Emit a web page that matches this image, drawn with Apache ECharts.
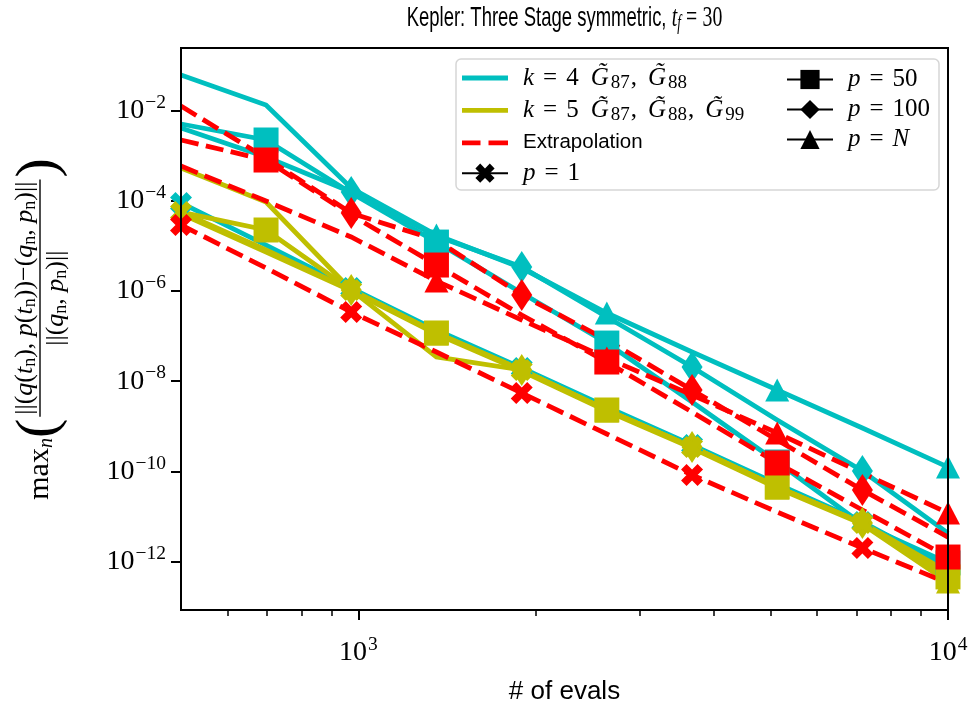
<!DOCTYPE html>
<html>
<head>
<meta charset="utf-8">
<script src="https://cdn.jsdelivr.net/npm/echarts@6.0.0/dist/echarts.min.js"></script>
<style>
html,body{margin:0;padding:0;background:#fff;}
#chart{width:974px;height:713px;}
</style>
</head>
<body>
<div id="chart"></div>
<script>
// ---------------- data ----------------
const evals = [500, 697, 972, 1356, 1892, 2638, 3680, 5132, 7158, 10000];

// k = 4  (cyan)
const k4_p1   = [8.9e-5, 1.04e-5, 1.16e-6, 1.36e-7, 1.96e-8, 2.68e-9, 3.85e-10, 5.27e-11, 7.6e-12, 7.3e-13];
const k4_p50  = [5.0e-3, 2.21e-3, 1.48e-4, 1.21e-5, 9.0e-7, 7.0e-8, 3.46e-9, 1.62e-10, 6.8e-12, 9.4e-13];
const k4_p100 = [4.07e-3, 9.3e-4, 1.56e-4, 1.65e-5, 3.39e-6, 2.64e-7, 2.06e-8, 1.38e-9, 1.02e-10, 4.3e-12];
const k4_pN   = [6.1e-2, 1.32e-2, 1.91e-4, 1.73e-5, 3.22e-6, 3.24e-7, 4.43e-8, 6.38e-9, 9.2e-10, 1.25e-10];

// k = 5  (yellow)
const k5_p1   = [5.6e-5, 8.1e-6, 1.05e-6, 3.44e-8, 1.77e-8, 2.30e-9, 3.48e-10, 4.52e-11, 7.2e-12, 4.4e-13];
const k5_p50  = [5.6e-5, 2.24e-5, 1.05e-6, 1.17e-7, 1.77e-8, 2.30e-9, 3.48e-10, 4.52e-11, 7.2e-12, 4.6e-13];
const k5_p100 = [5.3e-4, 9.3e-5, 1.05e-6, 1.17e-7, 1.77e-8, 2.30e-9, 3.48e-10, 4.52e-11, 7.2e-12, 5.9e-13];
const k5_pN   = [5.1e-5, 7.3e-6, 1.0e-6, 1.11e-7, 1.68e-8, 2.18e-9, 3.31e-10, 4.30e-11, 6.8e-12, 3.55e-13];

// Extrapolation (red, dashed)
const ex_p1   = [2.89e-5, 3.22e-6, 3.41e-7, 4.43e-8, 5.47e-9, 6.76e-10, 8.34e-11, 1.26e-11, 2.01e-12, 3.37e-13];
const ex_p50  = [2.21e-3, 7.96e-4, 4.81e-5, 3.75e-6, 2.93e-7, 2.66e-8, 2.07e-9, 1.54e-10, 1.40e-11, 1.27e-12];
const ex_p100 = [1.25e-2, 8.8e-4, 5.3e-5, 1.34e-5, 8.12e-7, 8.17e-8, 6.38e-9, 4.98e-10, 3.88e-11, 3.52e-12];
const ex_pN   = [5.86e-4, 9.82e-5, 1.57e-5, 1.66e-6, 2.27e-7, 3.26e-8, 4.94e-9, 7.11e-10, 9.23e-11, 1.20e-11];

// axis ticks
const xMajorTicks = [1000, 10000];
const xMinorTicks = [600, 700, 800, 900, 2000, 3000, 4000, 5000, 6000, 7000, 8000, 9000];
const yMajorTicks = [1e-2, 1e-4, 1e-6, 1e-8, 1e-10, 1e-12];
const xRange = [500, 10000];
const yRange = [Math.pow(10, -13.07), Math.pow(10, -0.617)];

// ---------------- styles ----------------
const CYAN = '#00bfbf', YEL = '#bfbf00', RED = '#ff0000', BLACK = '#000000';
const GRID = {left: 181, top: 48, width: 767, height: 562};
const LW = 4.8;
const DASH = [18, 7.5];
const SERIF = "'Liberation Serif', 'DejaVu Serif', serif";
const SANS = "'Liberation Sans', 'DejaVu Sans', sans-serif";
const XPATH = 'path://M1,0L2,1L3,0L4,1L3,2L4,3L3,4L2,3L1,4L0,3L1,2L0,1Z';
const THIN_DIAMOND = 'path://M0,5L3.5,0L7,5L3.5,10Z';

const MARK = {
  p1:   {sym: XPATH, size: 22, start: 0},
  p50:  {sym: 'rect', size: 25, start: 1},
  p100: {sym: 'diamond', size: [21, 32], start: 2},
  pN:   {sym: 'triangle', size: [24, 23], start: 3}
};

function mk(data, color, dashed, p) {
  const m = MARK[p];
  return {
    type: 'line',
    data: evals.map((x, i) => [x, data[i]]),
    xAxisIndex: 0, yAxisIndex: 0,
    lineStyle: {color: color, width: LW, type: dashed ? DASH : 'solid', cap: 'butt', join: 'miter'},
    itemStyle: {color: color, borderWidth: 0},
    symbol: (v, params) => (params.dataIndex >= m.start && (params.dataIndex - m.start) % 2 === 0) ? m.sym : 'none',
    symbolSize: m.size,
    symbolKeepAspect: false,
    showSymbol: true, showAllSymbol: true,
    emphasis: {disabled: true}, silent: true, animation: false, clip: true, z: 2
  };
}

const dataSeries = [
  mk(k4_pN, CYAN, false, 'pN'), mk(k4_p100, CYAN, false, 'p100'), mk(k4_p50, CYAN, false, 'p50'), mk(k4_p1, CYAN, false, 'p1'),
  mk(k5_pN, YEL, false, 'pN'), mk(k5_p100, YEL, false, 'p100'), mk(k5_p50, YEL, false, 'p50'), mk(k5_p1, YEL, false, 'p1'),
  mk(ex_pN, RED, true, 'pN'), mk(ex_p100, RED, true, 'p100'), mk(ex_p50, RED, true, 'p50'), mk(ex_p1, RED, true, 'p1')
];

// legend-only series
function lg(name, color, dashed, symbol) {
  return {name: name, type: 'line', data: [], lineStyle: {color: color, width: LW, type: dashed ? DASH : 'solid'},
          itemStyle: {color: color, borderWidth: 0}, symbol: symbol || 'none', symbolKeepAspect: true,
          emphasis: {disabled: true}, silent: true, animation: false};
}
const legendSeries = [
  lg('k4', CYAN), lg('k5', YEL), lg('ex', RED, true), lg('p1', BLACK, false, XPATH),
  lg('p50', BLACK, false, 'rect'), lg('p100', BLACK, false, THIN_DIAMOND), lg('pN', BLACK, false, 'triangle')
];

const SOLID_ICON = 'path://M0,0h0.01v0.01h-0.01zM0,9.6h46v4.8h-46zM45.99,23.99h0.01v0.01h-0.01z';
const DASH_ICON = 'path://M0,0h0.01v0.01h-0.01zM0,9.6h18.5v4.8h-18.5zM26.5,9.6h19.5v4.8h-19.5zM45.99,23.99h0.01v0.01h-0.01z';

const LEG_TEXT = {
  k4: '{g|}{i|k}{e|=}{r|4}{sp|}{i|G\u0303}{sub|87}{c|,}{i|G\u0303}{sub|88}',
  k5: '{g|}{i|k}{e|=}{r|5}{sp|}{i|G\u0303}{sub|87}{c|,}{i|G\u0303}{sub|88}{c|,}{i|G\u0303}{sub|99}',
  ex: '{g|}{s|Extrapolation}',
  p1: '{g|}{i|p}{e|=}{r|1}',
  p50: '{g|}{i|p}{e|=}{r|50}',
  p100: '{g|}{i|p}{e|=}{r|100}',
  pN: '{g|}{i|p}{e|=}{i|N}'
};
const LEG_RICH = {
  g: {width: 10},
  sp: {width: 12},
  i: {fontFamily: SERIF, fontStyle: 'italic', fontSize: 25, color: '#000'},
  r: {fontFamily: SERIF, fontSize: 25, color: '#000'},
  c: {fontFamily: SERIF, fontSize: 25, color: '#000', padding: [0, 11, 0, 1]},
  e: {fontFamily: SERIF, fontSize: 25, color: '#000', padding: [0, 9, 0, 9]},
  sub: {fontFamily: SERIF, fontSize: 19, color: '#000', padding: [10, 0, 0, 2]},
  s: {fontFamily: SANS, fontSize: 20.5, color: '#000'}
};

// tick labels 10^e
const AX_RICH = {
  b: {fontFamily: SERIF, fontSize: 28, color: '#000'},
  s: {fontFamily: SERIF, fontSize: 19.5, color: '#000', padding: [0, 0, 16, 1]}
};
function powLabel(v) {
  const e = Math.round(Math.log10(v));
  return '{b|10}{s|' + String(e).replace('-', '\u2212') + '}';
}

// ---------------- y-axis name (fraction) ----------------
const mctx = document.createElement('canvas').getContext('2d');
const FR = 26, FSUB = 18, FMAX = 30, FMS = 20, FPAR = 58;
function tw(t, size, italic) { mctx.font = (italic ? 'italic ' : '') + size + "px 'Liberation Serif'"; return mctx.measureText(t).width; }
const NUMTOK = [['r','||('],['i','q'],['r','('],['i','t'],['sub','n'],['r','), '],['i','p'],['r','('],['i','t'],['sub','n'],['r','))\u2212('],['i','q'],['sub','n'],['r',', '],['i','p'],['sub','n'],['r',')||']];
const DENTOK = [['r','||('],['i','q'],['sub','n'],['r',', '],['i','p'],['sub','n'],['r',')||']];
function tokW(toks) { return toks.reduce((s, t) => s + tw(t[1], t[0] === 'sub' ? FSUB : FR, t[0] === 'i'), 0); }
function tokS(toks) { return toks.map(t => '{' + t[0] + '|' + t[1] + '}').join(''); }
const FRAC_RICH = {
  r: {fontFamily: SERIF, fontSize: FR, fill: '#000'},
  i: {fontFamily: SERIF, fontSize: FR, fontStyle: 'italic', fill: '#000'},
  sub: {fontFamily: SERIF, fontSize: FSUB, fill: '#000', padding: [10, 0, 0, 0]},
  m: {fontFamily: SERIF, fontSize: FMAX, fill: '#000'},
  ms: {fontFamily: SERIF, fontSize: FMS, fontStyle: 'italic', fill: '#000', padding: [13, 0, 0, 0]},
  p: {fontFamily: SERIF, fontSize: FPAR, fill: '#000'}
};
const numW = tokW(NUMTOK), denW = tokW(DENTOK);
const fracW = Math.max(numW, denW) + 4;
const leftW = tw('max', FMAX, false) + tw('n', FMS, true) + tw('(', FPAR, false);
const rightW = tw(')', FPAR, false);
const totalW = leftW + 2 + fracW + 2 + rightW;
const x0 = -totalW / 2;
const fc = x0 + leftW + 2 + fracW / 2;
const yNameGroup = {
  type: 'group', x: 40, y: GRID.top + GRID.height / 2, rotation: Math.PI / 2, z: 30,
  children: [
    {type: 'text', x: x0, y: 0, style: {text: '{m|max}{ms|n}{p|(}', rich: FRAC_RICH, align: 'left', verticalAlign: 'middle'}},
    {type: 'text', x: fc, y: -15, style: {text: tokS(NUMTOK), rich: FRAC_RICH, align: 'center', verticalAlign: 'middle'}},
    {type: 'line', shape: {x1: fc - fracW / 2, y1: 0, x2: fc + fracW / 2, y2: 0}, style: {stroke: '#000', lineWidth: 1.4}},
    {type: 'text', x: fc, y: 16, style: {text: tokS(DENTOK), rich: FRAC_RICH, align: 'center', verticalAlign: 'middle'}},
    {type: 'text', x: x0 + leftW + 2 + fracW + 2, y: 0, style: {text: '{p|)}', rich: FRAC_RICH, align: 'left', verticalAlign: 'middle'}}
  ]
};

// title (condensed sans look via horizontal scale)
const titleText = {
  type: 'text', x: GRID.left + GRID.width / 2, y: 18, scaleX: 0.66, z: 30,
  style: {
    text: '{s|Kepler: Three Stage symmetric, }{i|t}{sub|f}{e|=}{r|30}',
    align: 'center', verticalAlign: 'middle',
    rich: {
      s: {fontFamily: SANS, fontSize: 28, fill: '#000'},
      i: {fontFamily: SERIF, fontStyle: 'italic', fontSize: 30, fill: '#000'},
      sub: {fontFamily: SERIF, fontStyle: 'italic', fontSize: 20, fill: '#000', padding: [12, 0, 0, 0]},
      e: {fontFamily: SERIF, fontSize: 30, fill: '#000', padding: [0, 8, 0, 8]},
      r: {fontFamily: SERIF, fontSize: 30, fill: '#000'}
    }
  }
};

// ---------------- chart ----------------
const chart = echarts.init(document.getElementById('chart'), null, {renderer: 'canvas'});
const option = {
  animation: false,
  backgroundColor: '#ffffff',
  grid: {left: GRID.left, top: GRID.top, width: GRID.width, height: GRID.height, containLabel: false, show: false},
  xAxis: [
    {
      type: 'log', logBase: 10, min: xRange[0], max: xRange[1], position: 'bottom',
      axisLine: {show: false}, splitLine: {show: false}, minorTick: {show: false},
      axisTick: {show: true, customValues: xMajorTicks, length: 10, lineStyle: {color: '#000', width: 2}},
      axisLabel: {customValues: xMajorTicks, formatter: powLabel, margin: 25, rich: AX_RICH},
      name: '# of evals', nameLocation: 'middle', nameGap: 69,
      nameTextStyle: {fontFamily: SANS, fontSize: 26, color: '#000'}
    },
    {
      type: 'log', logBase: 10, min: xRange[0], max: xRange[1], position: 'bottom', gridIndex: 0,
      axisLine: {show: false}, splitLine: {show: false}, axisLabel: {show: false},
      axisTick: {show: true, customValues: xMinorTicks, length: 6, lineStyle: {color: '#000', width: 1.5}}
    }
  ],
  yAxis: {
    type: 'log', logBase: 10, min: yRange[0], max: yRange[1],
    axisLine: {show: false}, splitLine: {show: false},
    axisTick: {show: true, customValues: yMajorTicks, length: 10, lineStyle: {color: '#000', width: 2}},
    axisLabel: {customValues: yMajorTicks, formatter: powLabel, margin: 15, rich: AX_RICH}
  },
  legend: [
    {
      data: [
        {name: 'k4', icon: SOLID_ICON, itemStyle: {color: CYAN, borderWidth: 0}},
        {name: 'k5', icon: SOLID_ICON, itemStyle: {color: YEL, borderWidth: 0}},
        {name: 'ex', icon: DASH_ICON, itemStyle: {color: RED, borderWidth: 0}},
        {name: 'p1'}
      ],
      left: 461, top: 65.5, orient: 'vertical', itemWidth: 46, itemHeight: 24, itemGap: 5.4, padding: 0,
      selectedMode: false, formatter: n => LEG_TEXT[n],
      textStyle: {color: '#000', fontSize: 25, fontFamily: SERIF, rich: LEG_RICH}, z: 20
    },
    {
      data: [{name: 'p50'}, {name: 'p100'}, {name: 'pN'}],
      left: 786, top: 67, orient: 'vertical', itemWidth: 46, itemHeight: 24, itemGap: 5, padding: 0,
      selectedMode: false, formatter: n => LEG_TEXT[n],
      textStyle: {color: '#000', fontSize: 25, fontFamily: SERIF, rich: LEG_RICH}, z: 20
    }
  ],
  graphic: [
    titleText,
    {type: 'rect', z: 15, shape: {x: 456, y: 59, width: 483, height: 131, r: 5},
     style: {fill: 'rgba(255,255,255,0.85)', stroke: '#d6d6d6', lineWidth: 1.5}},
    {type: 'rect', z: 14, shape: {x: GRID.left, y: GRID.top, width: GRID.width, height: GRID.height},
     style: {fill: 'none', stroke: '#000', lineWidth: 2}},
    yNameGroup
  ],
  series: dataSeries.concat(legendSeries)
};
chart.setOption(option);
</script>
</body>
</html>
